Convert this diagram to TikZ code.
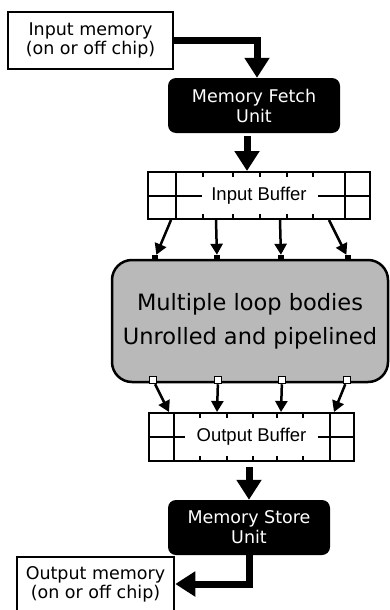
\documentclass[tikz,border=0pt]{standalone}
\usepackage{fontspec}
\setmainfont{DejaVu Sans}
\newfontfamily\buffont{Liberation Sans}
\usetikzlibrary{arrows.meta}

\tikzset{
  membox/.style={draw, line width=2.5pt, fill=white, align=center, inner sep=0pt,
    font=\fontsize{17.5}{19}\selectfont},
  unitbox/.style={fill=black, text=white, rounded corners=8pt, align=center,
    minimum width=172pt, minimum height=55pt, inner sep=0pt,
    font=\fontsize{17.5}{20}\selectfont},
  loopbox/.style={draw, line width=2.5pt, fill=gray!55, rounded corners=20pt,
    align=center, minimum width=276pt, minimum height=122pt, inner sep=0pt,
    font=\fontsize{22.5}{34}\selectfont},
  bufbox/.style={draw, line width=2pt, inner sep=0pt,
    font=\buffont\fontsize{18.5}{20}\selectfont},
  bufline/.style={line width=2pt},
  bigflow/.style={line width=7pt, -{Triangle[length=20pt,width=24pt]}},
  feed/.style={line width=2.5pt, -{Triangle[length=11pt,width=12pt]}},
  inport/.style={fill=black, minimum size=6pt, inner sep=0pt},
  outport/.style={draw, line width=1.5pt, fill=white, minimum size=7pt, inner sep=0pt},
}

\begin{document}
\begin{tikzpicture}[x=1pt, y=-1pt]
  \useasboundingbox (0,0) rectangle (390,610);

  % ---- Input memory ----
  \node[membox, minimum width=165pt, minimum height=57pt] (inmem) at (90.5,40.5)
    {Input memory\\(on or off chip)};

  % ---- Memory Fetch Unit ----
  \node[unitbox] (fetch) at (254,105.5) {Memory Fetch\\Unit};
  \draw[bigflow] (inmem.east) -| ([xshift=3pt]fetch.north);

  % ---- Input Buffer ----
  \node[bufbox, minimum width=222pt, minimum height=47pt] (inbuf) at (259,195.5) {Input Buffer};
  \draw[bufline] (176,172) -- (176,219) (345,172) -- (345,219)
                 (148,195.5) -- (202,195.5) (318,195.5) -- (370,195.5);
  \foreach \x in {203,233,260,287,313}
    \draw[bufline] (\x,172) -- (\x,177) (\x,214) -- (\x,219);
  \draw[bigflow, shorten <=3pt] ([xshift=-7pt]fetch.south) -- ([xshift=-7pt]fetch.south |- inbuf.north);

  % ---- Loop bodies ----
  \node[loopbox] (loops) at (250,321) {Multiple loop bodies\\Unrolled and pipelined};

  % input ports (top of loop bodies)
  \node[inport] (p1) at (155,258) {};
  \node[inport] (p2) at (217,258) {};
  \node[inport] (p3) at (281,258) {};
  \node[inport] (p4) at (348,258) {};
  \draw[feed] ([xshift=24pt]inbuf.south west) -- (p1);
  \draw[feed] ([xshift=69pt]inbuf.south west) -- (p2);
  \draw[feed] ([xshift=133pt]inbuf.south west) -- (p3);
  \draw[feed] ([xshift=182pt]inbuf.south west) -- (p4);

  % ---- Output Buffer ----
  \node[bufbox, minimum width=205pt, minimum height=48pt] (outbuf) at (251.5,437) {Output Buffer};
  \draw[bufline] (174,413) -- (174,461) (330,413) -- (330,461)
                 (149,437) -- (185,437) (318,437) -- (354,437);
  \foreach \x in {200,227,253,277,303}
    \draw[bufline] (\x,413) -- (\x,418) (\x,456) -- (\x,461);

  % output ports (bottom of loop bodies)
  \node[outport] (q1) at (153,380) {};
  \node[outport] (q2) at (218,380) {};
  \node[outport] (q3) at (282,380) {};
  \node[outport] (q4) at (347,380) {};
  \draw[feed] (q1) -- ([xshift=21pt]outbuf.north west);
  \draw[feed] (q2) -- ([xshift=69pt]outbuf.north west);
  \draw[feed] (q3) -- ([xshift=133pt]outbuf.north west);
  \draw[feed] (q4) -- ([xshift=186pt]outbuf.north west);

  % ---- Memory Store Unit ----
  \node[unitbox, minimum width=162pt] (store) at (249,527.5) {Memory Store\\Unit};
  \draw[bigflow, shorten <=5pt] (outbuf.south -| store.north) -- (store.north);

  % ---- Output memory ----
  \node[membox, minimum width=157pt, minimum height=54pt] (outmem) at (95.5,584)
    {Output memory\\(on or off chip)};
  \draw[bigflow] (store.south) |- (outmem.east);

\end{tikzpicture}
\end{document}
